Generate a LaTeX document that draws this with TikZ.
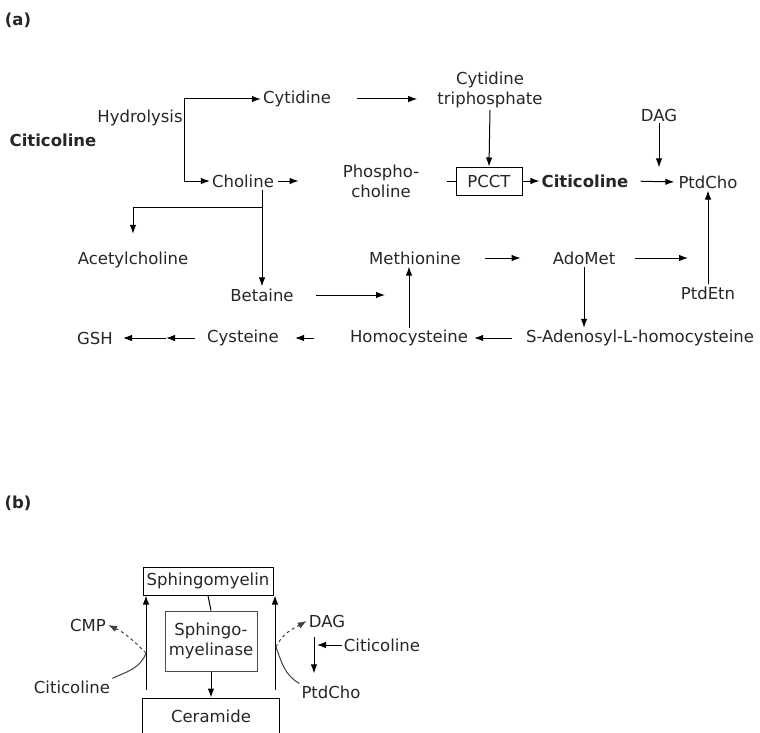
\documentclass[tikz,border=0pt]{standalone}
\usepackage{fontspec}
\setmainfont{DejaVu Sans}
\usepackage{tikz}
\usetikzlibrary{arrows.meta, positioning, shapes}

\tikzset{
  pw/.style={-{Latex[length=9pt,width=6.5pt]}, line width=1pt},
  ln/.style={line width=1pt},
  mol/.style={inner sep=2pt, text=black!85, align=center},
  box/.style={draw, line width=1pt, inner sep=2pt, text=black!85, align=center}
}

\begin{document}
\begin{tikzpicture}[x=1pt, y=-1pt, font=\fontsize{16.5}{20}\selectfont]
\useasboundingbox (0,0) rectangle (760,733);

% part (a)
\node[mol, font=\fontsize{16.5}{20}\selectfont\bfseries] (lbla) at (18,20) {(a)};
\node[mol, font=\fontsize{16.5}{20}\selectfont\bfseries] (cit0) at (53,140) {Citicoline};
\node[mol] (hyd) at (140,118) {Hydrolysis};
\node[mol] (cyt) at (297,99) {Cytidine};
\node[mol] (ctp) at (490,90) {Cytidine\\triphosphate};
\node[mol] (cho) at (243,181) {Choline};
\node[mol] (pcho) at (381,181) {Phospho-\\choline};
\node[box, minimum width=66pt, minimum height=28pt] (pcct) at (489,181) {PCCT};
\node[mol, font=\fontsize{16.5}{20}\selectfont\bfseries] (cit) at (585,181) {Citicoline};
\node[mol] (ptdcho) at (708,182) {PtdCho};
\node[mol] (dag) at (659,115) {DAG};
\node[mol] (ach) at (133,260) {Acetylcholine};
\node[mol] (bet) at (262,295) {Betaine};
\node[mol] (met) at (415,258) {Methionine};
\node[mol] (adomet) at (584,258) {AdoMet};
\node[mol] (ptdetn) at (708,293) {PtdEtn};
\node[mol] (hcy) at (409,338) {Homocysteine};
\node[mol] (sah) at (640,338) {S-Adenosyl-L-homocysteine};
\node[mol] (cys) at (243,338) {Cysteine};
\node[mol] (gsh) at (95,338) {GSH};

\coordinate (split) at (184,140);
\coordinate (br) at (262,207);
\coordinate (mid) at (166,338);

\draw[pw] (split) |- (cyt.west);
\draw[pw] (split) |- (cho.west);
\draw[pw, shorten <=24pt, shorten >=18pt] (cyt.east) -- (cyt.east -| ctp.west);
\draw[pw] (ctp.south) -- (pcct.north);
\draw[pw, shorten <=2pt, shorten >=42pt] (cho.east) -- (cho.east -| pcho.west);
\draw[ln, shorten <=26pt] (pcho.east) -- (pcct.west);
\draw[pw] (pcct.east) -- (cit.west);
\draw[pw, shorten <=10pt, shorten >=2pt] (cit.east) -- (ptdcho.west);
\draw[pw, shorten >=6pt] (dag.south) -- (dag.south |- ptdcho.north);
\draw[ln] (cho.south -| br) -- (br);
\draw[pw] (br) -- (bet.north);
\draw[pw, shorten >=16pt] (br) -| (ach.north);
\draw[pw, shorten <=20pt, shorten >=24pt] (bet.east) -- (bet.east -| hcy);
\draw[pw] (hcy.north) -- (hcy.north |- met.south);
\draw[pw, shorten <=22pt, shorten >=30pt] (met.east) -- (adomet.west);
\draw[pw, shorten <=18pt, shorten >=20pt] (adomet.east) -- (adomet.east -| ptdetn);
\draw[pw] (ptdetn.north) -- (ptdcho.south);
\draw[pw] (adomet.south) -- (adomet.south |- sah.north);
\draw[pw, shorten <=12pt, shorten >=4pt] (sah.west) -- (hcy.east);
\draw[pw, shorten <=34pt, shorten >=14pt] (hcy.west) -- (cys.east);
\draw[pw, shorten <=10pt] (cys.west) -- (mid);
\draw[pw, shorten >=8pt] (mid) -- (gsh.east);

% part (b)
\node[mol, font=\fontsize{16.5}{20}\selectfont\bfseries] (lblb) at (18,503) {(b)};
\node[box, minimum width=130pt, minimum height=28pt] (sm) at (208,581) {Sphingomyelin};
\node[box, draw=black!70, minimum width=92pt, minimum height=60pt] (sma) at (211,641) {Sphingo-\\myelinase};
\node[box, minimum width=137pt, minimum height=36pt] (cer) at (211,716) {Ceramide};
\node[mol] (cmp) at (88,625) {CMP};
\node[mol] (citl) at (72,687) {Citicoline};
\node[mol] (dag2) at (327,621) {DAG};
\node[mol] (pc2) at (331,692) {PtdCho};
\node[mol] (cit2) at (382,645) {Citicoline};

\coordinate (lb) at (146,690);
\coordinate (rb) at (275,690);
\coordinate (lj) at (146,653);
\coordinate (rj) at (276,647);
\coordinate (dv) at (314,637);

\draw[ln] (sm.south) -- (sma.north);
\draw[pw] (sma.south) -- (cer.north);
\draw[pw] (lb) -- (lb |- sm.south);
\draw[pw] (rb) -- (rb |- sm.south);
\draw[ln, black!75] (citl.north east) to[out=25, in=-110] (lj);
\draw[pw, dashed, black!75] (lj) to[out=135, in=-25] (cmp.east);
\draw[ln, black!75] (pc2.north west) to[out=150, in=-70] (rj);
\draw[pw, dashed, black!75] (rj) to[out=65, in=-150] (dag2.west);
\draw[pw, shorten >=10pt] (dv) -- (dv |- pc2.north);
\draw[pw, shorten >=3pt] (cit2.west) -- (cit2.west -| dv);
\end{tikzpicture}
\end{document}
